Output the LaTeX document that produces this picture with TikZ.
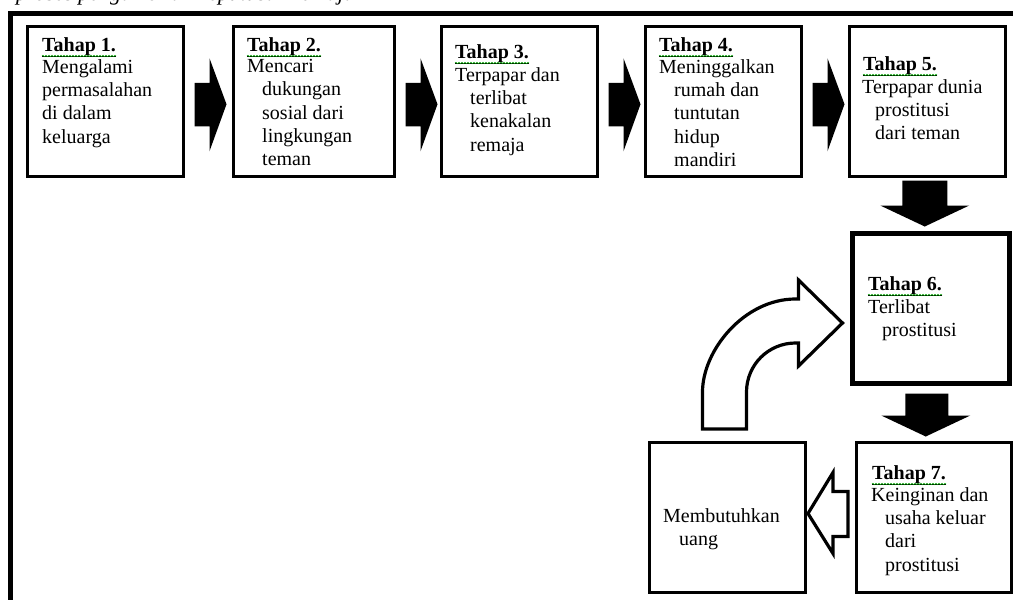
\documentclass[tikz,border=0pt]{standalone}
\usepackage{fontspec}
\setmainfont{Liberation Serif}
\usetikzlibrary{calc,decorations.pathmorphing}
\tikzset{
  txt/.style={anchor=north west, yshift=13.66pt, inner sep=0pt, align=left, font=\fontsize{20}{23.2}\selectfont},
  ttl/.style={anchor=base west, inner sep=0pt, font=\bfseries\fontsize{20}{23.2}\selectfont},
  squig/.style={draw=green!65!black, line width=0.6pt, decorate, decoration={snake, amplitude=0.7pt, segment length=3pt}},
  stepbox/.style 2 args={draw, line width=2.5pt, anchor=north west, inner sep=0pt, minimum width=#1, minimum height=#2},
  blk/.style={fill=black},
  hollow/.style={draw=black, fill=white, line width=3.2pt, line join=miter},
}
\newcommand\myind{\hspace*{15pt}}
\begin{document}
\begin{tikzpicture}[x=1pt,y=-1pt]
\useasboundingbox (0,0) rectangle (1013,600);
\clip (0,0) rectangle (1013,600);
\fill[white] (0,0) rectangle (1013,600);
% cut-off caption
\node (cap) [anchor=base west, inner sep=0pt, font=\itshape\fontsize{22}{26}\selectfont] at (16,0.6) {proses pengambilan keputusan remaja};
% outer frame (left and top only visible)
\draw[line width=5pt, line join=miter] (10,640) -- (10,13) -- (1040,13);

% boxes
\node (b1) [stepbox={156pt}{150pt}] at (26,25) {};
\node (b2) [stepbox={161pt}{150pt}] at (232,25) {};
\node (b3) [stepbox={156pt}{150pt}] at (440,25) {};
\node (b4) [stepbox={156pt}{150pt}] at (644,25) {};
\node (b5) [stepbox={156pt}{150pt}] at (848,25) {};
\node (b6) [stepbox={157pt}{150pt}, line width=4.5pt] at (850,231) {};
\node (b7) [stepbox={155pt}{150pt}, line width=3pt] at (855,441) {};
\node (bm) [stepbox={156pt}{150pt}, line width=3pt] at (648,441) {};

% texts
\node (t1) [ttl] at (42,51) {\underline{Tahap 1.}};
\node (x1) [txt] at (42,73) {Mengalami\\permasalahan\\di dalam\\keluarga};
\node (t2) [ttl] at (247,51) {\underline{Tahap 2.}};
\node (x2) [txt] at (247,73) {Mencari\\\myind dukungan\\\myind sosial dari\\\myind lingkungan\\\myind teman};
\node (t3) [ttl] at (455,58) {\underline{Tahap 3.}};
\node (x3) [txt] at (455,81) {Terpapar dan\\\myind terlibat\\\myind kenakalan\\\myind remaja};
\node (t4) [ttl] at (659,51) {\underline{Tahap 4.}};
\node (x4) [txt] at (659,73) {Meninggalkan\\\myind rumah dan\\\myind tuntutan\\\myind hidup\\\myind mandiri};
\node (t5) [ttl] at (863,70) {\underline{Tahap 5.}};
\node (x5) [txt] at (862,93) {Terpapar dunia\\\hspace*{13pt}prostitusi\\\hspace*{13pt}dari teman};
\node (t6) [ttl] at (868,290) {\underline{Tahap 6.}};
\node (x6) [txt] at (868,313) {Terlibat\\\hspace*{14pt}prostitusi};
\node (t7) [ttl] at (872,479) {\underline{Tahap 7.}};
\node (x7) [txt] at (871,501) {Keinginan dan\\\hspace*{14pt}usaha keluar\\\hspace*{14pt}dari\\\hspace*{14pt}prostitusi};
\node (xm) [txt] at (663,522) {Membutuhkan\\\hspace*{16pt}uang};

\foreach \t in {t1,t2,t3,t4,t5,t6,t7}
  \draw[squig] ([yshift=-5pt]\t.base west) -- ([yshift=-5pt]\t.base east);

% black block arrows, left to right
\foreach \a/\b in {b1/b2,b2/b3,b3/b4,b4/b5}{
  \begin{scope}[shift={(\a.east)}]
    \fill[blk] (10,-18.5) -- (25,-18.5) -- (25,-43) -- (42,3) -- (25,50) -- (25,25) -- (10,25) -- cycle;
  \end{scope}
}
% black block arrows, downwards
\begin{scope}[shift={(b5.south)}]
  \fill[blk] (-25,3) -- (20,3) -- (20,28) -- (42,28) -- (-2.5,49) -- (-47,28) -- (-25,28) -- cycle;
\end{scope}
\begin{scope}[shift={(b6.south)}]
  \fill[blk] (-25.5,8) -- (17.5,8) -- (17.5,30) -- (39.5,30) -- (-5,51) -- (-49.5,30) -- (-25.5,30) -- cycle;
\end{scope}
% hollow arrow from Tahap 7 to Membutuhkan uang
\begin{scope}[shift={(b7.west)}]
  \draw[hollow] (-47,-4) -- (-22,-45) -- (-22,-26) -- (-7,-26) -- (-7,19) -- (-22,19) -- (-22,36) -- cycle;
\end{scope}
% curved hollow arrow from Membutuhkan uang to Tahap 6
\begin{scope}[shift={(bm.north)}]
  \draw[hollow] (-25,-12) -- (19,-12) -- (19,-49)
    .. controls (19,-76.1) and (40.9,-98) .. (68,-98)
    -- (71,-98) -- (71,-75) -- (115,-118) -- (71,-161) -- (71,-142) -- (68,-142)
    .. controls (16.6,-142) and (-25,-90.6) .. (-25,-49) -- cycle;
\end{scope}
\end{tikzpicture}
\end{document}
